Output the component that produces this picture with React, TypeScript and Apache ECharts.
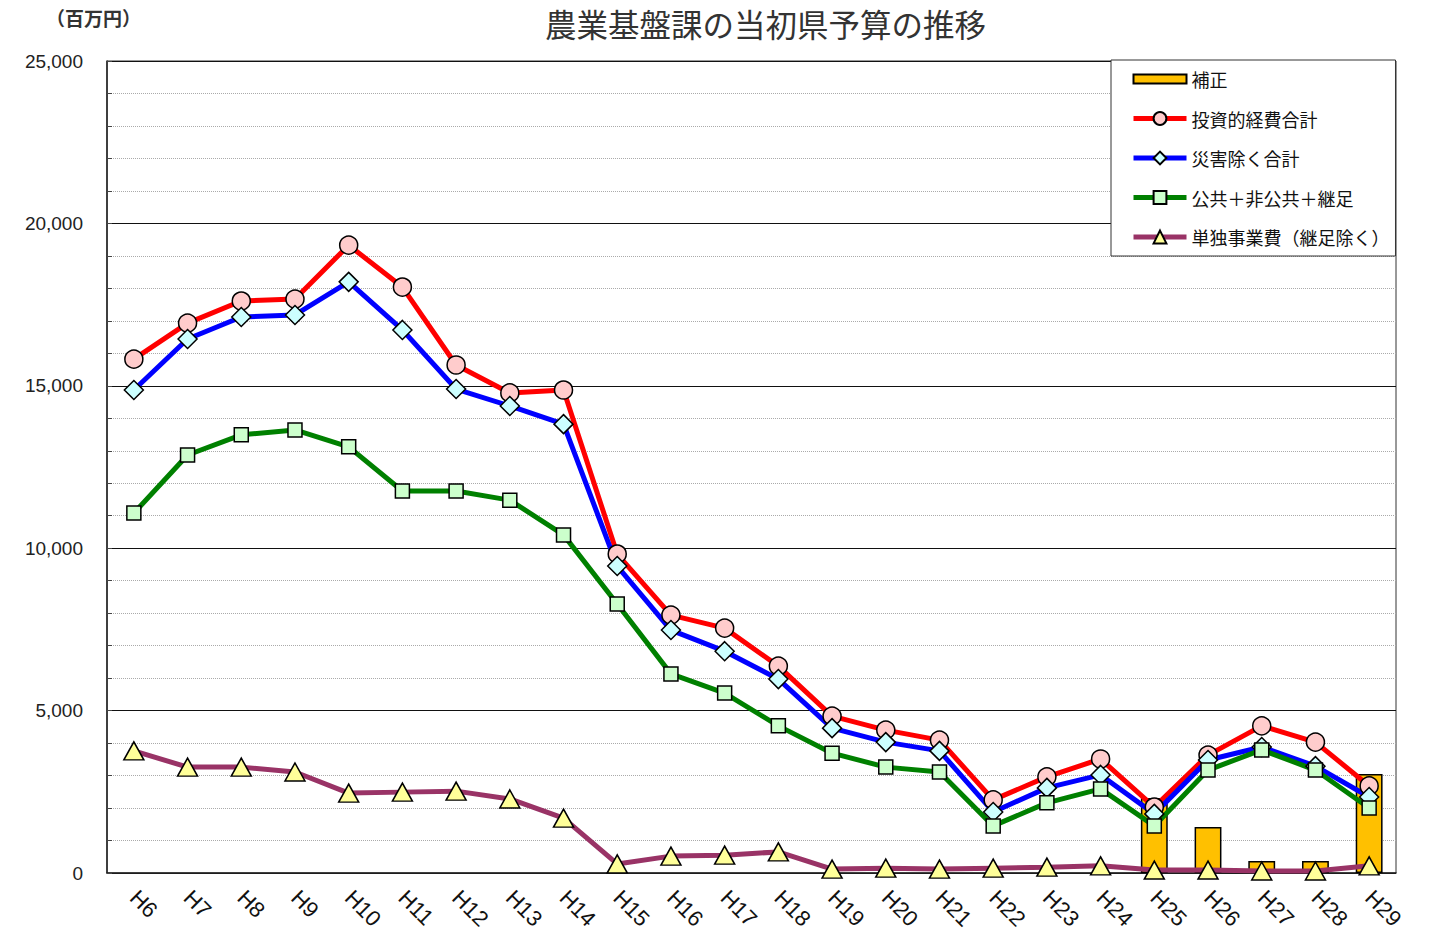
import React, { useEffect, useRef } from "react";
import * as echarts from "echarts";

const categories = ["H6","H7","H8","H9","H10","H11","H12","H13","H14","H15","H16","H17","H18","H19","H20","H21","H22","H23","H24","H25","H26","H27","H28","H29"];
const hosei = [null,null,null,null,null,null,null,null,null,null,null,null,null,null,null,null,null,null,null,2310,1420,370,370,3050];
const toushi = [15820,16930,17610,17670,19330,18040,15640,14780,14870,9820,7940,7540,6370,4830,4400,4090,2250,2960,3510,2030,3630,4530,4030,2680];
const saigaiNozoku = [14870,16440,17120,17180,18200,16720,14900,14380,13820,9450,7480,6830,5970,4460,4030,3760,1880,2620,3020,1820,3480,3880,3290,2340];
const kokyo = [11080,12870,13490,13640,13120,11760,11760,11480,10410,8280,6130,5540,4530,3690,3260,3110,1450,2160,2590,1450,3170,3790,3170,2000];
const tandoku = [3760,3260,3260,3110,2460,2490,2520,2280,1690,280,520,550,650,120,150,120,150,180,220,90,90,60,60,220];
const yTicks = { min: 0, max: 25000, interval: 5000 };

const JP = "'Noto Sans CJK JP', 'Noto Sans', sans-serif";
const LAT = "'Liberation Sans', Arial, sans-serif";

export default function App() {
  const ref = useRef<HTMLDivElement>(null);
  useEffect(() => {
    if (!ref.current) return;
    const chart = echarts.init(ref.current, null, { renderer: "svg" });
    const lineSeries = (name: string, data: number[], color: string, symbol: string, size: any, fill: string) => ({
      name,
      type: "line",
      data,
      symbol,
      symbolSize: size,
      lineStyle: { color, width: 5 },
      itemStyle: { color: fill, borderColor: "#000", borderWidth: 1.5 },
      emphasis: { disabled: true },
    });
    chart.setOption({
      animation: false,
      backgroundColor: "#fff",
      title: {
        text: "農業基盤課の当初県予算の推移",
        left: 540,
        top: 2,
        textStyle: { fontFamily: JP, fontSize: 31.5, fontWeight: "normal", color: "#333" },
      },
      graphic: [
        {
          type: "text",
          left: 46,
          top: 8,
          style: { text: "（百万円）", fontFamily: JP, fontSize: 19, fontWeight: "bold", fill: "#333" },
        },
      ],
      legend: {
        orient: "vertical",
        left: 1111,
        top: 60,
        padding: [9, 6, 9, 20],
        itemGap: 19.5,
        itemWidth: 53,
        itemHeight: 16,
        backgroundColor: "#fff",
        borderColor: "#333",
        borderWidth: 1,
        borderRadius: 0,
        selectedMode: false,
        lineStyle: { width: 5 },
        textStyle: { fontFamily: JP, fontSize: 18, color: "#111", lineHeight: 20 },
        data: [
          { name: "補正", icon: "path://M0,0H53V9H0Z" },
          "投資的経費合計",
          "災害除く合計",
          "公共＋非公共＋継足",
          "単独事業費（継足除く）",
        ],
      },
      grid: {
        left: 107,
        right: 33,
        top: 61,
        bottom: 62,
        show: true,
        borderColor: "#333",
        borderWidth: 1,
      },
      xAxis: {
        type: "category",
        data: categories,
        boundaryGap: true,
        axisLine: { lineStyle: { color: "#222", width: 1.5 } },
        axisTick: { inside: true, length: 6, lineStyle: { color: "#444" } },
        axisLabel: {
          interval: 0,
          rotate: -45,
          margin: 21,
          fontFamily: LAT,
          fontSize: 22,
          color: "#111",
        },
      },
      yAxis: {
        type: "value",
        min: yTicks.min,
        max: yTicks.max,
        interval: yTicks.interval,
        axisLine: { show: true, lineStyle: { color: "#222", width: 1.5 } },
        axisTick: { show: true, inside: true, length: 5, lineStyle: { color: "#444" } },
        minorTick: { show: true, splitNumber: 5, length: 5, lineStyle: { color: "#444" } },
        axisLabel: {
          margin: 24,
          fontFamily: LAT,
          fontSize: 19,
          color: "#222",
          formatter: (v: number) => v.toLocaleString("en-US"),
        },
        splitLine: { show: true, lineStyle: { color: "#111", width: 1 } },
        minorSplitLine: { show: true, lineStyle: { color: "#aaa", width: 1, type: "dotted" } },
      },
      series: [
        {
          name: "補正",
          type: "bar",
          data: hosei,
          barWidth: "50%",
          itemStyle: { color: "#ffc000", borderColor: "#000", borderWidth: 1.5 },
          emphasis: { disabled: true },
        },
        lineSeries("投資的経費合計", toushi, "#ff0000", "circle", 18, "#ffcccc"),
        lineSeries("災害除く合計", saigaiNozoku, "#0000ff", "diamond", 19, "#ccffff"),
        lineSeries("公共＋非公共＋継足", kokyo, "#008000", "rect", 14, "#ccffcc"),
        lineSeries("単独事業費（継足除く）", tandoku, "#993366", "triangle", [20, 18], "#ffff99"),
      ],
    });
    return () => chart.dispose();
  }, []);
  return (
    <div
      ref={ref}
      style={{ position: "fixed", left: 0, top: 0, width: 1429, height: 935 }}
    />
  );
}
